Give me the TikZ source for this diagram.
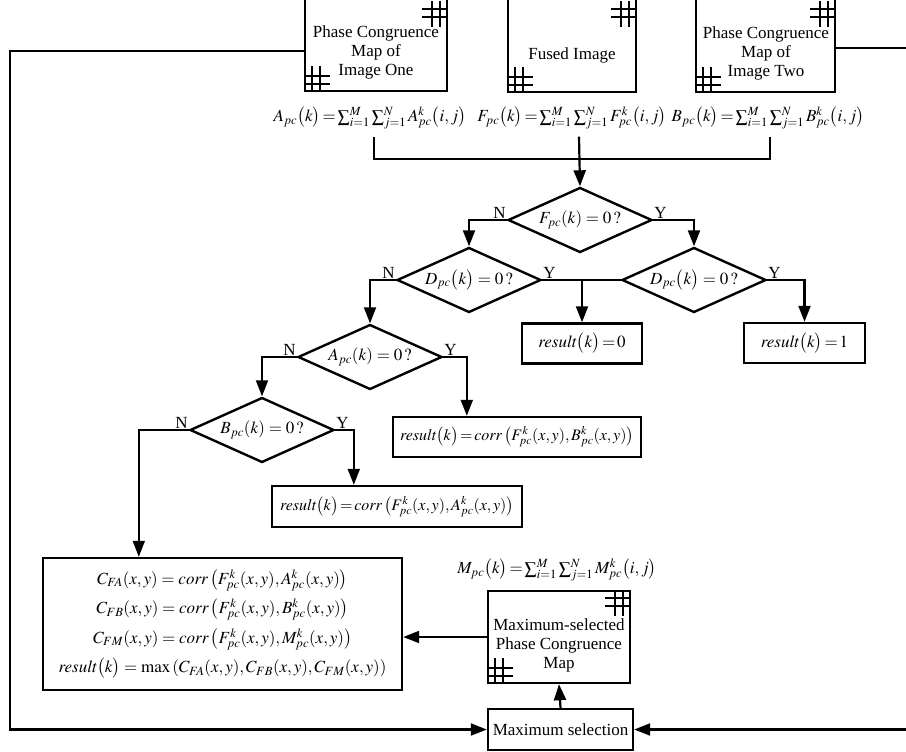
\documentclass[tikz,border=0pt]{standalone}
\usepackage{amsmath}
\usepackage{mathptmx}
\usepackage{fontspec}
\setmainfont{Liberation Serif}
\usetikzlibrary{shapes.geometric, arrows.meta}

\tikzset{
    hashmark/.pic={
        \draw[line width=2.2pt] (8,0) -- (8,26) (16,0) -- (16,26) (0,8) -- (26,8) (0,16) -- (26,16);
    }
}

\begin{document}
\begin{tikzpicture}[x=1pt, y=-1pt,
    every node/.style={font=\fontsize{17}{19}\selectfont},
    line/.style={line width=2.2pt},
    flow/.style={line, ->},
    >={Triangle[length=16pt, width=12pt]},
    tight/.style={execute at begin node={\thickmuskip=2mu\medmuskip=2mu}},
    mapbox/.style={draw, line width=2.4pt, minimum width=142pt},
    decision/.style={draw, diamond, line width=2.4pt, aspect=2.2, inner sep=0pt, minimum width=144pt, minimum height=65pt},
    resultbox/.style={draw, tight, line width=2.4pt, minimum height=40pt},
    branch/.style={inner sep=1pt}]
    \useasboundingbox (0,0) rectangle (906,752);
    \clip (0,0) rectangle (906,752);

    % input maps (cut at the top)
    \node[mapbox, minimum height=101pt] (pcone) at (376,40.5) {};
    \node[mapbox, minimum height=102pt, minimum width=128pt] (fused) at (572,41) {};
    \node[mapbox, minimum height=102pt, minimum width=139pt] (pctwo) at (765.5,41) {};
    \node[align=center] (pconetext) at (376,52) {Phase Congruence\\Map of\\Image One};
    \node (fusedtext) at (572,55) {Fused Image};
    \node[align=center] (pctwotext) at (766,53) {Phase Congruence\\Map of\\Image Two};
    \foreach \m in {pcone, fused, pctwo} {
        \pic[xscale=-1] at (\m.east |- 0,1) {hashmark};
        \pic[yscale=-1] at (\m.south west) {hashmark};
    }

    % sums
    \node[tight] (aform) at (370,118) {$A_{pc}\bigl(k\bigr)=\sum_{i=1}^{M}\sum_{j=1}^{N}A_{pc}^{k}\bigl(i,j\bigr)$};
    \node[tight] (fform) at (572,118) {$F_{pc}\bigl(k\bigr)=\sum_{i=1}^{M}\sum_{j=1}^{N}F_{pc}^{k}\bigl(i,j\bigr)$};
    \node[tight] (bform) at (768,118) {$B_{pc}\bigl(k\bigr)=\sum_{i=1}^{M}\sum_{j=1}^{N}B_{pc}^{k}\bigl(i,j\bigr)$};
    \coordinate (merge) at (579,159);

    % decisions
    \node[decision] (fdia) at (580,220) {$F_{pc}(k)=0\,?$};
    \node[decision] (dleft) at (469,280) {$D_{pc}\bigl(k\bigr)=0\,?$};
    \node[decision] (dright) at (694,280) {$D_{pc}\bigl(k\bigr)=0\,?$};
    \node[decision] (adia) at (370,357) {$A_{pc}(k)=0\,?$};
    \node[decision] (bdia) at (262,430) {$B_{pc}(k)=0\,?$};

    \node[branch, anchor=south east] (fn) at (fdia.west) {N};
    \node[branch, anchor=south west] (fy) at (fdia.east) {Y};
    \node[branch, anchor=south east] (dln) at (dleft.west) {N};
    \node[branch, anchor=south west] (dly) at (dleft.east) {Y};
    \node[branch, anchor=south west] (dry) at (dright.east) {Y};
    \node[branch, anchor=south east] (an) at (adia.west) {N};
    \node[branch, anchor=south west] (ay) at (adia.east) {Y};
    \node[branch, anchor=south east] (bn) at (bdia.west) {N};
    \node[branch, anchor=south west] (by) at (bdia.east) {Y};

    % results
    \node[resultbox, minimum width=120pt] (rzero) at (582,343.5) {$\mathit{result}\bigl(k\bigr)=0$};
    \node[resultbox, minimum width=121pt] (rone) at (804.5,343) {$\mathit{result}\bigl(k\bigr)=1$};
    \node[resultbox, minimum width=248pt, font=\fontsize{16}{19}\selectfont] (rbcorr) at (517,437) {$\mathit{result}\bigl(k\bigr)=\mathit{corr}\left(F_{pc}^{k}(x,y),B_{pc}^{k}(x,y)\right)$};
    \node[resultbox, minimum width=250pt, minimum height=41pt, font=\fontsize{16}{19}\selectfont] (racorr) at (397,506.5) {$\mathit{result}\bigl(k\bigr)=\mathit{corr}\left(F_{pc}^{k}(x,y),A_{pc}^{k}(x,y)\right)$};
    \node[draw, line width=2.4pt, minimum width=359pt, minimum height=132pt, align=center,
        font=\fontsize{17}{29.5}\selectfont] (combo) at (222.5,624) {%
        $C_{FA}(x,y)=\mathit{corr}\left(F_{pc}^{k}(x,y),A_{pc}^{k}(x,y)\right)$\\
        $C_{FB}(x,y)=\mathit{corr}\left(F_{pc}^{k}(x,y),B_{pc}^{k}(x,y)\right)$\\
        $C_{FM}(x,y)=\mathit{corr}\left(F_{pc}^{k}(x,y),M_{pc}^{k}(x,y)\right)$\\
        $\mathit{result}\bigl(k\bigr)=\max\left(C_{FA}(x,y),C_{FB}(x,y),C_{FM}(x,y)\right)$};

    % maximum selection
    \node[tight] (mform) at (557,570) {$M_{pc}\bigl(k\bigr)=\sum_{i=1}^{M}\sum_{j=1}^{N}M_{pc}^{k}\bigl(i,j\bigr)$};
    \node[mapbox, minimum height=92pt] (selmap) at (559,637) {};
    \node[align=center] (selmaptext) at (559,645) {Maximum-selected\\Phase Congruence\\Map};
    \pic[xscale=-1] at (selmap.north east) {hashmark};
    \pic[yscale=-1] at (selmap.south west) {hashmark};
    \node[resultbox, minimum width=145pt, minimum height=41pt] (selbox) at (560.5,729.5) {Maximum selection};

    % connectors
    \draw[line] ([xshift=4pt,yshift=-4pt]aform.south) |- (merge) -| ([xshift=2pt,yshift=-4pt]bform.south);
    \draw[flow] ([yshift=-4pt]fform.south -| merge) -- (fdia.north);
    \draw[flow] (fdia.west) -| (dleft.north);
    \draw[flow] (fdia.east) -| (dright.north);
    \draw[flow] (dleft.west) -| (adia.north);
    \draw[line] (dleft.east) -- (dright.west);
    \draw[flow] (rzero.north |- dleft.east) -- (rzero.north);
    \draw[flow] (dright.east) -| (rone.north);
    \draw[flow] (adia.west) -| (bdia.north);
    \draw[flow] (adia.east) -| ([xshift=75pt]rbcorr.north west);
    \draw[flow] (bdia.east) -| ([xshift=83pt]racorr.north west);
    \draw[flow] (bdia.west) -| ([xshift=97pt]combo.north west);
    \draw[flow] (selmap.west) -- (combo.east |- selmap.west);
    \draw[flow] (selbox.north) -- (selmap.south);

    % loops round the sides
    \coordinate (lefttop) at (10,51);
    \coordinate (leftbot) at (10,729.5);
    \coordinate (righttop) at (906,48);
    \coordinate (rightbot) at (906,729.5);
    \draw[flow] (lefttop -| pcone.west) -- (lefttop) -- (leftbot) -- (selbox.west);
    \draw[line] (righttop -| pctwo.east) -- (righttop);
    \draw[flow] (rightbot) -- (selbox.east);
\end{tikzpicture}
\end{document}
